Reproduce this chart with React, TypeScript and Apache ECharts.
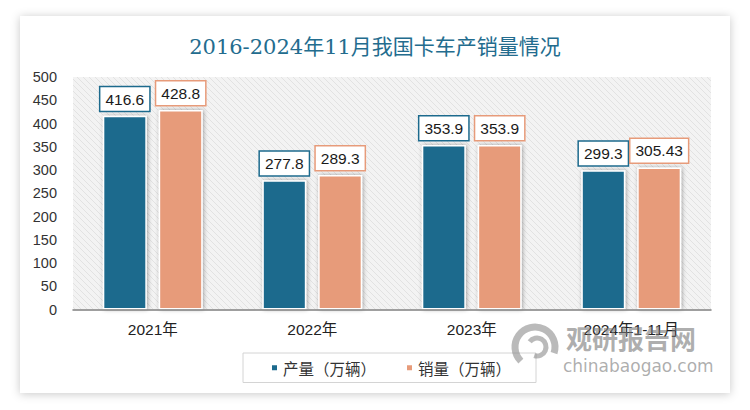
import React, { useEffect, useRef } from "react";
import * as echarts from "echarts";

const titleText = "2016-2024年11月我国卡车产销量情况";
const categories = ["2021年", "2022年", "2023年", "2024年1-11月"];
const seriesNames = ["产量（万辆）", "销量（万辆）"];
const production = [416.6, 277.8, 353.9, 299.3];
const sales = [428.8, 289.3, 353.9, 305.43];
const yMin = 0;
const yMax = 500;
const yInterval = 50;

const BLUE = "#1c6a8d";
const ORANGE = "#e79b7a";

function makeHatch(): string {
  const c = document.createElement("canvas");
  c.width = 6;
  c.height = 6;
  const ctx = c.getContext("2d")!;
  ctx.fillStyle = "#f3f3f3";
  ctx.fillRect(0, 0, 6, 6);
  ctx.strokeStyle = "#e2e2e2";
  ctx.lineWidth = 1;
  ctx.beginPath();
  for (let k = -6; k <= 12; k += 6) {
    ctx.moveTo(k, 0);
    ctx.lineTo(k + 6, 6);
  }
  ctx.stroke();
  return c.toDataURL();
}

export default function App() {
  const ref = useRef<HTMLDivElement>(null);
  useEffect(() => {
    if (!ref.current) return;
    const chart = echarts.init(ref.current, undefined, { renderer: "svg" });
    const hatch = makeHatch();
    const labelFont = "'Liberation Sans', 'Noto Sans CJK SC', sans-serif";
    const makeLabel = (color: string) => ({
      show: true,
      position: "top" as const,
      distance: 5,
      backgroundColor: "#fff",
      borderColor: color,
      borderWidth: 1.5,
      padding: [4, 5, 4, 5],
      fontSize: 15.5,
      color: "#1a1a1a",
      fontFamily: labelFont,
    });
    chart.setOption({
      animation: false,
      backgroundColor: "#fff",
      title: {
        text: titleText,
        left: "center",
        top: 31,
        textStyle: {
          fontSize: 21,
          fontWeight: "normal",
          color: "#236c8e",
          fontFamily: "'DejaVu Serif', 'Noto Sans CJK SC', serif",
        },
      },
      legend: {
        data: seriesNames,
        left: 243,
        top: 353,
        orient: "horizontal",
        icon: "rect",
        itemWidth: 7,
        itemHeight: 7,
        itemGap: 29,
        padding: [7, 25, 7, 27],
        borderColor: "#d4d4d4",
        borderWidth: 1,
        backgroundColor: "#fff",
        textStyle: {
          fontSize: 15.5,
          color: "#333",
          fontFamily: "'Noto Sans CJK SC', sans-serif",
        },
      },
      grid: {
        left: 73,
        right: 39,
        top: 77,
        bottom: 100.5,
        containLabel: false,
        outerBoundsMode: "none",
      },
      xAxis: {
        type: "category",
        data: categories,
        axisLine: { show: true, lineStyle: { color: "#808080", width: 1.5 } },
        axisTick: { show: false },
        axisLabel: {
          fontSize: 15.5,
          color: "#222",
          margin: 12,
          fontFamily: labelFont,
        },
        z: 3,
      },
      yAxis: {
        type: "value",
        min: yMin,
        max: yMax,
        interval: yInterval,
        axisLine: { show: false },
        axisTick: { show: false },
        splitLine: { show: false },
        axisLabel: {
          fontSize: 14.5,
          color: "#333",
          margin: 16,
          fontFamily: labelFont,
        },
      },
      graphic: [
        {
          type: "rect",
          z: -10,
          silent: true,
          shape: { x: 20, y: 16, width: 710, height: 377 },
          style: {
            fill: "#fff",
            shadowBlur: 10,
            shadowColor: "rgba(0,0,0,0.22)",
            shadowOffsetX: 0,
            shadowOffsetY: 1,
          },
        },
        {
          type: "rect",
          z: -5,
          silent: true,
          shape: { x: 73, y: 77, width: 638, height: 232.5 },
          style: { fill: { image: hatch, repeat: "repeat" } as any },
        },
        {
          type: "arc",
          z: 50,
          silent: true,
          shape: { cx: 535, cy: 347, r: 20, startAngle: Math.PI * 0.75, endAngle: Math.PI * 2.1 },
          style: { stroke: "rgba(130,130,130,0.55)", lineWidth: 7, fill: "none" },
        },
        {
          type: "arc",
          z: 50,
          silent: true,
          shape: { cx: 537, cy: 347, r: 9, startAngle: Math.PI * 1.2, endAngle: Math.PI * 2.6 },
          style: { stroke: "rgba(130,130,130,0.55)", lineWidth: 5, fill: "none" },
        },
        {
          type: "text",
          z: 50,
          silent: true,
          x: 566,
          y: 324,
          style: {
            text: "观研报告网",
            fontSize: 26,
            fontWeight: "bold",
            fill: "rgba(120,120,120,0.6)",
            fontFamily: "'Noto Sans CJK SC', sans-serif",
          },
        },
        {
          type: "text",
          z: 50,
          silent: true,
          x: 563,
          y: 357,
          style: {
            text: "chinabaogao.com",
            fontSize: 17,
            fill: "rgba(120,120,120,0.6)",
            fontFamily: "'DejaVu Sans', sans-serif",
          },
        },
      ],
      series: [
        {
          name: seriesNames[0],
          type: "bar",
          data: production,
          barWidth: 44,
          barGap: "27%",
          itemStyle: {
            color: BLUE,
            borderColor: "#fff",
            borderWidth: 1.5,
            shadowBlur: 4,
            shadowColor: "rgba(0,0,0,0.35)",
            shadowOffsetX: 1,
          },
          label: makeLabel(BLUE),
        },
        {
          name: seriesNames[1],
          type: "bar",
          data: sales,
          barWidth: 44,
          barGap: "27%",
          itemStyle: {
            color: ORANGE,
            borderColor: "#fff",
            borderWidth: 1.5,
            shadowBlur: 4,
            shadowColor: "rgba(0,0,0,0.35)",
            shadowOffsetX: 1,
          },
          label: makeLabel(ORANGE),
        },
      ],
    });
    return () => chart.dispose();
  }, []);
  return (
    <div
      ref={ref}
      style={{ position: "absolute", left: 0, top: 0, width: 750, height: 410 }}
    />
  );
}
